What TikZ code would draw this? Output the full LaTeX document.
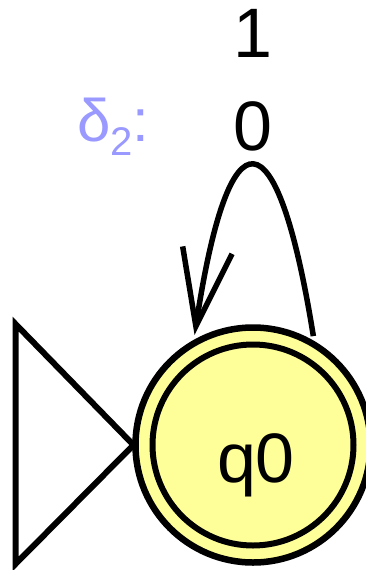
\documentclass[tikz,border=0pt]{standalone}
\usepackage{fontspec}
\setmainfont{Liberation Sans}
\usetikzlibrary{arrows.meta}
\definecolor{stfill}{HTML}{FFFF99}
\definecolor{deltacol}{HTML}{9999FF}
\begin{document}
\begin{tikzpicture}[x=1pt,y=-1pt,
  stateouter/.style={circle, draw, line width=6.5pt, fill=stfill, minimum size=235pt, inner sep=0pt, outer sep=7pt},
  stateinner/.style={circle, draw, line width=6pt, minimum size=201pt, inner sep=0pt},
  bigtext/.style={font=\fontsize{70}{70}\selectfont, inner sep=0pt, anchor=base},
  loopedge/.style={line width=5.5pt, -{Straight Barb[length=77pt,width=50pt]}},
  initmark/.style={line width=6pt, line join=miter},
]
\useasboundingbox (0,0) rectangle (365,570);
\node[stateouter] (q0) at (253,445) {};
\node[stateinner] (q0in) at (q0.center) {};
\node[bigtext] (q0lab) at (256,482) {q0};
\draw[initmark] ([xshift=5pt]q0.west) -- ++(-118,-121) -- ++(0,240) -- cycle;
\draw[loopedge] (q0.61) .. controls (277,110) and (229,107) .. (q0.118);
\node[bigtext] (l0) at (253,150) {0};
\node[bigtext] (l1) at (253,57) {1};
\node[font=\fontsize{60}{60}\selectfont, text=deltacol, anchor=base west, inner sep=0pt] (delta) at (77,141) {δ\raisebox{-14pt}{\fontsize{40}{40}\selectfont 2}:};
\end{tikzpicture}
\end{document}
